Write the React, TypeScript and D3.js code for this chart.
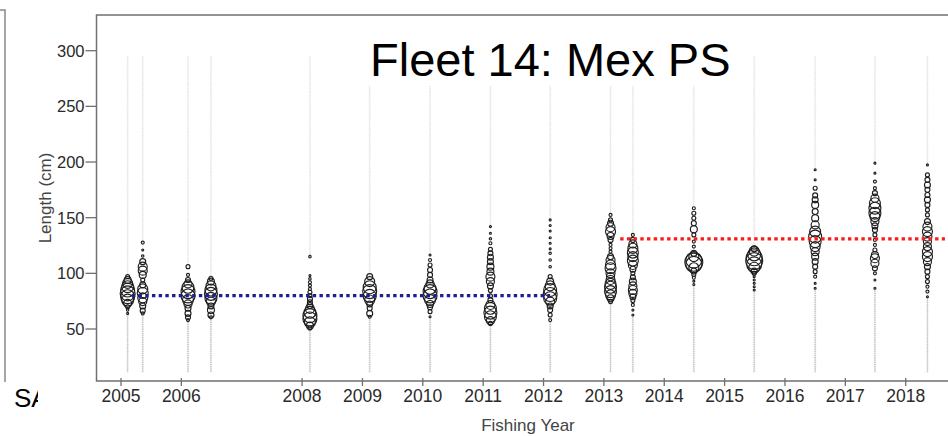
import React from "react";
import * as d3 from "d3";

// ---- data ----
const tickYears = [2005, 2006, 2008, 2009, 2010, 2011, 2012, 2013, 2014, 2015, 2016, 2017, 2018];
const lengthTicks = [50, 100, 150, 200, 250, 300];

const c2005a: [number, number][] = [[97,0.0049],[94,0.015],[91,0.031],[88,0.044],[85,0.060],[82,0.069],[79,0.060],[76,0.044],[73,0.020],[70,0.0049],[67,0.0018],[64,0.0012]];
const c2005b: [number, number][] = [[127.6,0.0028],[121,0.0012],[115.5,0.0018],[110.5,0.011],[106,0.025],[102.4,0.025],[98.6,0.015],[94,0.0049],[89.6,0.011],[86,0.031],[82.4,0.037],[78,0.031],[74.6,0.020],[70.7,0.011],[66.5,0.0077],[64,0.0028]];
const c2006a: [number, number][] = [[106,0.0049],[98.6,0.0028],[94,0.0077],[90.5,0.020],[87.5,0.044],[83.6,0.060],[79.7,0.060],[76,0.037],[72.5,0.020],[68.6,0.011],[64,0.011],[60.5,0.0077],[58,0.0028]];
const c2006b: [number, number][] = [[95.6,0.0049],[92.6,0.015],[88.7,0.031],[85,0.044],[81.5,0.052],[77.6,0.044],[74.6,0.025],[70.7,0.011],[67,0.015],[62.6,0.011],[60.5,0.0028]];
const c2008: [number, number][] = [[115,0.0018],[98,0.0012],[95,0.0018],[92,0.0028],[89,0.0028],[86,0.0028],[83,0.0049],[80,0.0049],[77,0.0077],[74,0.0077],[71,0.011],[68,0.025],[65,0.044],[62,0.060],[59,0.060],[56,0.037],[53,0.015],[51,0.0049]];
const c2009: [number, number][] = [[97,0.011],[92.6,0.031],[87.5,0.052],[83.6,0.060],[79.7,0.052],[76,0.031],[72.5,0.011],[68.6,0.0077],[64,0.011],[61,0.0028]];
const c2010: [number, number][] = [[116.5,0.0012],[112,0.0028],[107.5,0.0049],[103,0.0077],[98.6,0.0077],[94,0.011],[90.5,0.020],[86.6,0.044],[83.6,0.060],[79.7,0.060],[76,0.037],[72.5,0.015],[69.5,0.0077],[65.6,0.0049],[61,0.0012]];
const c2011: [number, number][] = [[142,0.0012],[136,0.0012],[131,0.0018],[127,0.0028],[121.6,0.0049],[118,0.0077],[114.5,0.011],[110.5,0.011],[106,0.015],[101.5,0.015],[97,0.025],[92.6,0.020],[88.7,0.011],[84.5,0.0049],[79.7,0.0049],[76,0.0077],[71.6,0.025],[68.6,0.044],[64.7,0.052],[61,0.044],[57.5,0.020],[55,0.0049]];
const c2012: [number, number][] = [[148,0.0012],[143,0.0012],[138,0.0012],[132,0.0012],[127,0.0012],[122,0.0012],[118,0.0018],[112,0.0018],[106,0.0018],[97,0.0049],[92.6,0.015],[88.7,0.031],[85,0.052],[81,0.060],[77.6,0.052],[74.6,0.025],[70.7,0.011],[67,0.0077],[62.6,0.0049],[58,0.0028]];
const c2013a: [number, number][] = [[152.5,0.0028],[148,0.0049],[145,0.011],[141.4,0.025],[137.5,0.031],[133.6,0.015],[130,0.0077],[125.5,0.0028],[122.5,0.0028],[119.5,0.0028],[115,0.011],[112,0.025],[107.5,0.031],[104.6,0.037],[100,0.025],[97,0.020],[94,0.025],[90.5,0.037],[87.5,0.044],[83.6,0.044],[80.6,0.031],[77.6,0.015],[74.6,0.0049]];
const c2013b: [number, number][] = [[134.5,0.0028],[130,0.0077],[126.4,0.020],[122.5,0.031],[118.6,0.037],[115,0.031],[111.4,0.037],[107.5,0.025],[103.7,0.011],[100,0.0049],[96.5,0.0077],[92.6,0.015],[88.7,0.020],[85,0.025],[82,0.020],[79,0.011],[75.5,0.0049],[71.6,0.0028],[67,0.0012],[62.6,0.0012]];
const c2014: [number, number][] = [[158.5,0.0028],[154,0.0049],[149.5,0.0049],[145,0.0077],[139.6,0.015],[134.5,0.0049],[128.5,0.0028],[124,0.0028],[118,0.011],[115,0.031],[112,0.079],[110,0.1],[108,0.079],[105,0.031],[102,0.011],[99,0.0049],[96,0.0028],[93,0.0012],[90,0.0012]];
const c2015: [number, number][] = [[122,0.011],[120,0.031],[117,0.052],[114,0.079],[111,0.089],[108,0.069],[105,0.037],[102,0.011],[100,0.0049],[97,0.0012],[94,0.0012],[91,0.0012],[88,0.0012],[85,0.0012]];
const c2016: [number, number][] = [[193,0.0012],[184,0.0012],[176.4,0.0049],[170,0.0077],[166,0.011],[161.5,0.015],[155.5,0.011],[149.5,0.015],[143.5,0.020],[137.5,0.037],[133,0.052],[128.5,0.044],[124,0.031],[119.5,0.020],[115,0.015],[110.5,0.011],[106,0.0077],[101.5,0.0049],[97,0.0028],[91,0.0012],[86.6,0.0012]];
const c2017: [number, number][] = [[199,0.0012],[190,0.0012],[182.4,0.0028],[176.5,0.0028],[172,0.0077],[167.5,0.020],[163,0.037],[158.5,0.044],[154,0.044],[151,0.031],[146.5,0.020],[142.6,0.011],[139,0.0077],[134.5,0.0049],[130,0.0028],[125.5,0.0028],[121,0.0049],[116.5,0.015],[113.6,0.025],[109,0.020],[104.6,0.0077],[100,0.0028],[94,0.0012],[86.6,0.0012]];
const c2018: [number, number][] = [[197.4,0.0012],[188.4,0.0049],[184,0.0077],[179.4,0.011],[175,0.0077],[170.4,0.0077],[166,0.011],[161.5,0.0077],[157,0.0049],[152.5,0.0049],[146.5,0.011],[142,0.025],[137.5,0.031],[133,0.025],[128.5,0.020],[124,0.020],[119.5,0.031],[115,0.031],[110.5,0.020],[106,0.011],[101.5,0.0077],[97,0.0049],[92.6,0.0049],[88,0.0028],[83.6,0.0028],[79,0.0012]];

const columnTimes = [2005.11, 2005.36, 2006.11, 2006.49, 2008.13, 2009.12, 2010.12, 2011.12, 2012.11, 2013.11, 2013.48, 2014.49, 2015.49, 2016.5, 2017.49, 2018.36];
const columnComps = [c2005a, c2005b, c2006a, c2006b, c2008, c2009, c2010, c2011, c2012, c2013a, c2013b, c2014, c2015, c2016, c2017, c2018];

// mean-length reference lines: [start, end, length]
const blueLine = [2005.18, 2012.11, 80];
const redLine = [2013.27, 2018.65, 130.9];

export default function App() {
  const W = 948, H = 436;
  const x = d3.scaleLinear().domain([2005, 2018]).range([121, 905.7]);
  const y = d3.scaleLinear().domain([50, 300]).range([329, 50.7]);
  const r = d3.scaleSqrt().domain([0, 0.1]).range([0, 9]);
  const ghostBins = d3.range(12, 295, 2);

  const left = 96.5, top = 15, bottom = 381;
  const font = "Liberation Sans, Arial, sans-serif";

  return (
    <svg width={W} height={H} style={{ position: "absolute", left: 0, top: 0, background: "#fff" }}>
      <defs>
        <clipPath id="saclip"><rect x={0} y={370} width={38} height={60} /></clipPath>
      </defs>
      {/* left neighbouring panel */}
      <path d={`M0,10 H5 V382`} fill="none" stroke="#888" strokeWidth={1.5} />
      <text x={14} y={407} fontSize={26} fontFamily={font} fill="#000" clipPath="url(#saclip)">SA</text>

      {/* ghost columns (empty length bins) */}
      {columnTimes.map((t, i) => {
        const lens = columnComps[i].map((d) => d[0]);
        const lo = d3.min(lens) as number;
        const hi = d3.max(lens) as number;
        return (
          <g key={"g" + i}>
            {ghostBins.filter((b) => b < lo || b > hi).map((b) => (
              <circle key={b} cx={x(t)} cy={y(b)} r={0.6} fill="none"
                stroke={b < lo ? "#b4b4b4" : "#dedede"} strokeWidth={0.7} />
            ))}
          </g>
        );
      })}

      {/* title with white box */}
      <rect x={345} y={top + 1} width={400} height={70} fill="#fff" />
      <text x={370} y={76} fontSize={47} fontFamily={font} fill="#000">Fleet 14: Mex PS</text>

      {/* bubbles */}
      {columnTimes.map((t, i) => (
        <g key={"c" + i}>
          {columnComps[i].map(([len, p], j) => (
            <circle key={j} cx={x(t)} cy={y(len)} r={r(p)} fill="none" stroke="#1e1e1e" strokeWidth={1.15} />
          ))}
        </g>
      ))}

      {/* reference lines */}
      <line x1={x(blueLine[0])} x2={x(blueLine[1])} y1={y(blueLine[2])} y2={y(blueLine[2])}
        stroke="#1f1f8f" strokeWidth={3.2} strokeDasharray="3.4,3.3" />
      <line x1={x(redLine[0])} x2={x(redLine[1])} y1={y(redLine[2])} y2={y(redLine[2])}
        stroke="#ff1a1a" strokeWidth={3.2} strokeDasharray="3.4,3.3" />

      {/* frame */}
      <path d={`M${W},${top} H${left} V${bottom} H${W}`} fill="none" stroke="#707070" strokeWidth={1.5} />

      {/* y axis */}
      {lengthTicks.map((v) => (
        <g key={v}>
          <line x1={left - 11} x2={left} y1={y(v)} y2={y(v)} stroke="#707070" strokeWidth={1.3} />
          <text x={left - 12} y={y(v)} dy="0.36em" textAnchor="end" fontSize={16.5} fontFamily={font} fill="#2a2a2a">{v}</text>
        </g>
      ))}
      <text transform={`translate(51,${(top + bottom) / 2}) rotate(-90)`} textAnchor="middle" fontSize={17} fontFamily={font} fill="#444">Length (cm)</text>

      {/* x axis */}
      {tickYears.map((v) => (
        <g key={v}>
          <line x1={x(v)} x2={x(v)} y1={bottom - 3} y2={bottom + 5} stroke="#707070" strokeWidth={1.3} />
          <text x={x(v)} y={402} textAnchor="middle" fontSize={17.5} fontFamily={font} fill="#2a2a2a">{v}</text>
        </g>
      ))}
      <text x={528} y={431} textAnchor="middle" fontSize={17} fontFamily={font} fill="#444">Fishing Year</text>
    </svg>
  );
}
